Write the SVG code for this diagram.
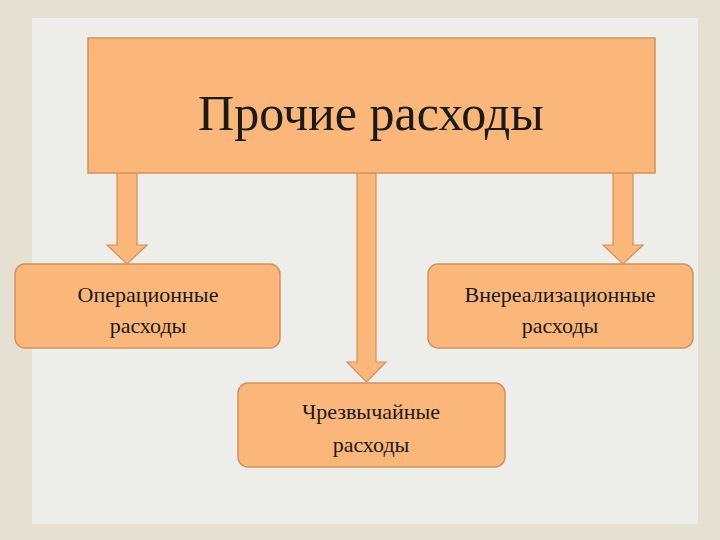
<svg xmlns="http://www.w3.org/2000/svg" width="720" height="540" viewBox="0 0 720 540">
<style>
.b{fill:#fbb77a;stroke:#d2925a;stroke-width:1.5}
.a{fill:#fbb77a;stroke:#d2925a;stroke-width:1.2}
text{font-family:"Liberation Serif","DejaVu Serif",serif;fill:#1a1a1a;text-anchor:middle}
.s{font-size:22px}
</style>
<rect width="720" height="540" fill="#e4e1d3"/>
<rect x="32" y="18" width="666" height="506" fill="#edede9"/>
<g id="connectors">
<path class="a" d="M117,173 V245 H107 L127,264 L147,245 H137 V173 Z"/>
<path class="a" d="M357,173 V362 H347 L366.5,382 L386,362 H376 V173 Z"/>
<path class="a" d="M613,173 V245 H603 L623,264 L643,245 H633 V173 Z"/>
</g>
<g id="top"><rect class="b" x="88" y="38" width="567" height="135"/>
<text x="371" y="130" font-size="50">Прочие расходы</text></g>
<g id="oper"><rect class="b" x="15" y="264" width="265" height="84" rx="10"/>
<text class="s" x="148" y="302">Операционные</text><text class="s" x="148" y="333">расходы</text></g>
<g id="vnereal"><rect class="b" x="428" y="264" width="265" height="84" rx="10"/>
<text class="s" x="560" y="302">Внереализационные</text><text class="s" x="560" y="333">расходы</text></g>
<g id="chrezv"><rect class="b" x="238" y="383" width="267" height="84" rx="10"/>
<text class="s" x="371" y="419">Чрезвычайные</text><text class="s" x="371" y="452">расходы</text></g>
</svg>
